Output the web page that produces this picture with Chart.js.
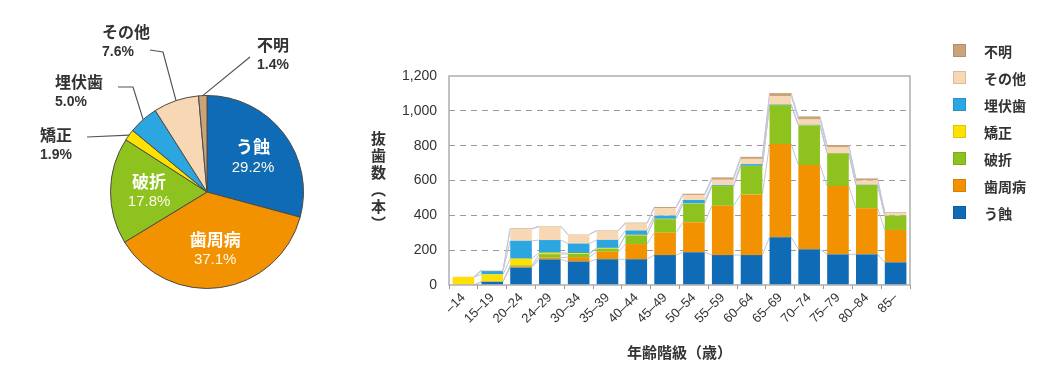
<!DOCTYPE html>
<html>
<head>
<meta charset="utf-8">
<script src="https://cdn.jsdelivr.net/npm/chart.js@4.4.1/dist/chart.umd.min.js"></script>
<style>
  body { margin: 0; background: #fff; width: 1062px; height: 377px; position: relative; overflow: hidden;
         font-family: "Noto Sans CJK JP", sans-serif; color: #333; }
  #pieBox { position: absolute; left: 0; top: 0; width: 340px; height: 377px; }
  #barBox { position: absolute; left: 340px; top: 0; width: 620px; height: 377px; }
  #ytitle { position: absolute; left: 371px; top: 131px; writing-mode: vertical-rl; font-size: 15px;
            font-weight: bold; letter-spacing: 2px; color: #333; line-height: 1; }
  #legend { position: absolute; left: 953px; top: 37px; font-size: 14px; font-weight: bold; color: #333; }
  .item { height: 27px; display: flex; align-items: center; }
  .sw { width: 13px; height: 13px; margin-right: 18px; box-sizing: border-box; border: 1px solid rgba(0,0,0,0.12); }
</style>
</head>
<body>
<div id="pieBox"><canvas id="pie"></canvas></div>
<div id="barBox"><canvas id="bar"></canvas></div>
<div id="ytitle">抜歯数︵本︶</div>
<div id="legend"></div>
<script>
// pie: share of extracted teeth by reason (%)
const reasons = ["う蝕", "歯周病", "破折", "矯正", "埋伏歯", "その他", "不明"];
const reasonShare = [29.2, 37.1, 17.8, 1.9, 5.0, 7.6, 1.4];

// bar: teeth extracted by age group
const ageGroups = ["–14", "15–19", "20–24", "24–29", "30–34", "35–39", "40–44", "45–49",
  "50–54", "55–59", "60–64", "65–69", "70–74", "75–79", "80–84", "85–"];
const caries      = [0, 19, 100, 147, 135, 148, 148, 172, 188, 172, 172, 274, 205, 176, 176, 130];
const periodontal = [0, 0, 8, 10, 25, 43, 87, 128, 172, 283, 348, 535, 484, 392, 264, 186];
const fracture    = [0, 0, 5, 20, 18, 18, 50, 78, 108, 113, 163, 224, 228, 188, 134, 82];
const orthodontic = [46, 42, 38, 8, 5, 4, 3, 2, 1, 1, 1, 1, 1, 0, 0, 0];
const impacted    = [0, 19, 103, 73, 55, 46, 25, 18, 19, 5, 10, 3, 2, 2, 2, 1];
const other       = [2, 5, 67, 77, 52, 52, 40, 44, 28, 30, 30, 48, 30, 32, 24, 12];
const unknown     = [0, 1, 4, 3, 2, 3, 5, 6, 8, 14, 12, 17, 18, 14, 12, 6];
const yTicks = [0, 200, 400, 600, 800, 1000, 1200];

const colors = ["#0f6bb5", "#f39200", "#8dc21f", "#ffe100", "#2ca6e0", "#f8d8b4", "#c9a37a"];
const seriesValues = [caries, periodontal, fracture, orthodontic, impacted, other, unknown];

const JP = '"Noto Sans CJK JP", sans-serif';
const NUM = '"Liberation Sans", Arial, sans-serif';
Chart.defaults.font.family = JP;
Chart.defaults.color = "#333";

// label placement for the pie (inside labels for big slices, leaders for small ones)
const outside = {
  3: { pts: [[87, 137]], tx: 40, ty: 135 },
  4: { pts: [[133, 87], [118, 87]], tx: 55, ty: 82 },
  5: { pts: [[163, 52], [150, 50]], tx: 102, ty: 32 },
  6: { pts: [[250, 57]], tx: 257, ty: 45 }
};

const pieLabels = {
  id: "pieLabels",
  afterDraw(chart) {
    const ctx = chart.ctx;
    const arcs = chart.getDatasetMeta(0).data;
    ctx.save();
    ctx.textBaseline = "middle";
    arcs.forEach((arc, i) => {
      const mid = (arc.startAngle + arc.endAngle) / 2;
      const pct = reasonShare[i].toFixed(1) + "%";
      if (outside[i]) {
        const o = outside[i];
        ctx.strokeStyle = "#555";
        ctx.lineWidth = 1.2;
        ctx.beginPath();
        ctx.moveTo(arc.x + Math.cos(mid) * arc.outerRadius, arc.y + Math.sin(mid) * arc.outerRadius);
        o.pts.forEach(p => ctx.lineTo(p[0], p[1]));
        ctx.stroke();
        ctx.fillStyle = "#333";
        ctx.textAlign = "left";
        ctx.font = "bold 16px " + JP;
        ctx.fillText(reasons[i], o.tx, o.ty);
        ctx.font = "bold 14px " + NUM;
        ctx.fillText(pct, o.tx, o.ty + 20);
      } else {
        const r = arc.outerRadius * 0.6;
        const x = arc.x + Math.cos(mid) * r;
        const y = arc.y + Math.sin(mid) * r;
        ctx.fillStyle = "#fff";
        ctx.textAlign = "center";
        ctx.font = "bold 17px " + JP;
        ctx.fillText(reasons[i], x, y - 10);
        ctx.font = "15px " + NUM;
        ctx.fillStyle = "#fdfbe8";
        ctx.fillText(pct, x, y + 11);
      }
    });
    ctx.restore();
  }
};

new Chart(document.getElementById("pie"), {
  type: "pie",
  data: {
    labels: reasons,
    datasets: [{ data: reasonShare, backgroundColor: colors, borderColor: "#4a4a4a", borderWidth: 1 }]
  },
  options: {
    animation: false,
    responsive: true,
    maintainAspectRatio: false,
    layout: { padding: { left: 110, top: 95, right: 36, bottom: 88 } },
    plugins: { legend: { display: false }, tooltip: { enabled: false } }
  },
  plugins: [pieLabels]
});

// thin lines joining each stack level from one bar to the next
const seriesLines = {
  id: "seriesLines",
  beforeDatasetsDraw(chart) {
    const ctx = chart.ctx;
    ctx.save();
    ctx.strokeStyle = "#c3c6d6";
    ctx.lineWidth = 1;
    chart.data.datasets.forEach((ds, d) => {
      const bars = chart.getDatasetMeta(d).data;
      for (let i = 0; i < bars.length - 1; i++) {
        const a = bars[i], b = bars[i + 1];
        ctx.beginPath();
        ctx.moveTo(a.x + a.width / 2, a.y);
        ctx.lineTo(b.x - b.width / 2, b.y);
        ctx.stroke();
      }
    });
    ctx.restore();
  },
  afterDatasetsDraw(chart) {
    const { ctx, chartArea: a } = chart;
    ctx.save();
    ctx.strokeStyle = "#a2a2a2";
    ctx.lineWidth = 1.3;
    ctx.strokeRect(a.left, a.top, a.right - a.left, a.bottom - a.top);
    ctx.restore();
  }
};

new Chart(document.getElementById("bar"), {
  type: "bar",
  data: {
    labels: ageGroups,
    datasets: reasons.map((name, i) => ({
      label: name,
      data: seriesValues[i],
      backgroundColor: colors[i],
      borderWidth: 0,
      barPercentage: 0.75,
      categoryPercentage: 1
    }))
  },
  options: {
    animation: false,
    responsive: true,
    maintainAspectRatio: false,
    layout: { padding: { left: 49, right: 50, top: 76, bottom: 0 } },
    scales: {
      x: {
        stacked: true,
        offset: true,
        afterFit: s => { s.height = 92; },
        grid: { display: true, drawOnChartArea: false, offset: true, tickLength: 4, color: "#999" },
        border: { display: false },
        ticks: { autoSkip: false, maxRotation: 45, minRotation: 45, padding: 1,
                 font: { size: 13, family: NUM }, color: "#333" },
        title: { display: true, text: "年齢階級（歳）", font: { size: 15, weight: "bold", family: JP },
                 color: "#333", padding: { top: 0, bottom: 16 } }
      },
      y: {
        stacked: true,
        min: 0,
        max: 1200,
        afterFit: s => { s.width = 60; },
        afterBuildTicks: s => { s.ticks = yTicks.map(v => ({ value: v })); },
        grid: {
          drawTicks: false,
          lineWidth: 1,
          color: c => (c.tick.value === 0 || c.tick.value === 1200) ? "rgba(0,0,0,0)" : "#9a9a9a"
        },
        border: { display: false, dash: [6, 5] },
        ticks: { padding: 12, font: { size: 14, family: NUM }, color: "#333",
                 callback: v => v.toLocaleString("en-US") }
      }
    },
    plugins: { legend: { display: false }, tooltip: { enabled: false } }
  },
  plugins: [seriesLines]
});

// legend, top to bottom in reverse stacking order
const legend = document.getElementById("legend");
reasons.slice().reverse().forEach((name, k) => {
  const i = reasons.length - 1 - k;
  const row = document.createElement("div");
  row.className = "item";
  const sw = document.createElement("span");
  sw.className = "sw";
  sw.style.background = colors[i];
  const t = document.createElement("span");
  t.textContent = name;
  row.appendChild(sw);
  row.appendChild(t);
  legend.appendChild(row);
});
</script>
</body>
</html>
